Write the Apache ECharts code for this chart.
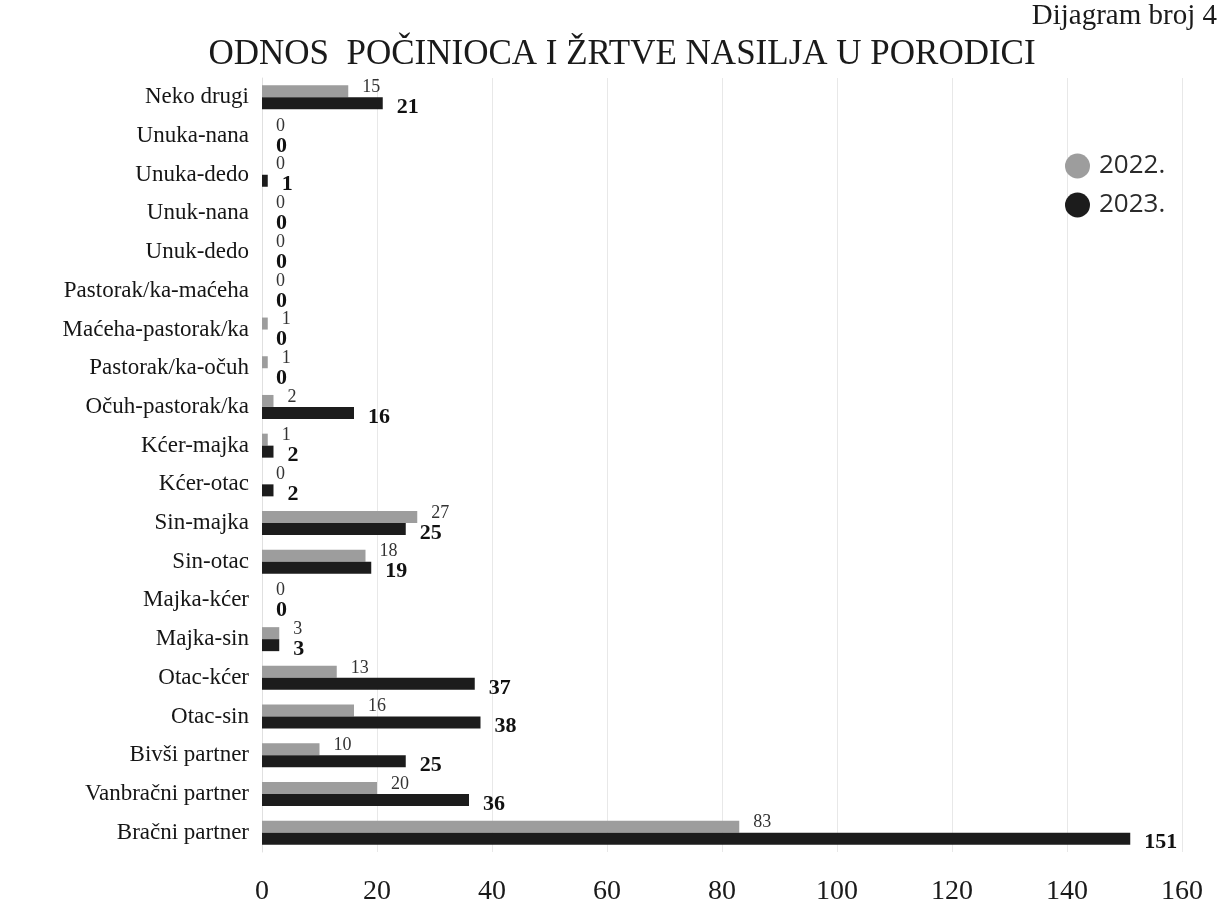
<!DOCTYPE html>
<html lang="en">
  <head>
    <meta charset="UTF-8" />
    <title>Dijagram broj 4</title>
    <style>
      html,
      body {
        margin: 0;
        width: 100%;
        height: 100%;
        overflow: hidden;
        background: #fff;
      }

      main {
        width: 1224px;
        height: 906px;
      }
    </style>
  </head>

  <body>
    <main></main>
  </body>
</html>
<script src="https://cdn.jsdelivr.net/npm/echarts@6/dist/echarts.min.js"></script>
<script>
  // kategorije, odozgo prema dolje
  const categories = [
    "Neko drugi",
    "Unuka-nana",
    "Unuka-dedo",
    "Unuk-nana",
    "Unuk-dedo",
    "Pastorak/ka-maćeha",
    "Maćeha-pastorak/ka",
    "Pastorak/ka-očuh",
    "Očuh-pastorak/ka",
    "Kćer-majka",
    "Kćer-otac",
    "Sin-majka",
    "Sin-otac",
    "Majka-kćer",
    "Majka-sin",
    "Otac-kćer",
    "Otac-sin",
    "Bivši partner",
    "Vanbračni partner",
    "Bračni partner",
  ];
  const values2022 = [15, 0, 0, 0, 0, 0, 1, 1, 2, 1, 0, 27, 18, 0, 3, 13, 16, 10, 20, 83];
  const values2023 = [21, 0, 1, 0, 0, 0, 0, 0, 16, 2, 2, 25, 19, 0, 3, 37, 38, 25, 36, 151];
  const years = ["2022.", "2023."];

  const serif = "'Liberation Serif', 'DejaVu Serif', serif";

  const chart = echarts.init(document.querySelector("main"));
  const option = {
    animation: false,
    backgroundColor: "#fff",
    title: [
      {
        text: "ODNOS  POČINIOCA I ŽRTVE NASILJA U PORODICI",
        left: 617,
        top: 32,
        textAlign: "center",
        textStyle: {
          fontFamily: serif,
          fontWeight: "normal",
          fontSize: 35,
          color: "#1a1a1a",
        },
      },
      {
        text: "Dijagram broj 4",
        right: 2,
        top: -3,
        textStyle: {
          fontFamily: serif,
          fontWeight: "normal",
          fontSize: 29,
          color: "#1a1a1a",
        },
      },
    ],
    legend: {
      orient: "vertical",
      left: 1060,
      top: 148,
      icon: "circle",
      itemWidth: 25,
      itemHeight: 25,
      itemGap: 13,
      textStyle: {
        fontFamily: "'Open Sans', 'Noto Sans', sans-serif",
        fontSize: 26,
        color: "#2a2a2a",
        padding: [0, 0, 0, 4],
      },
      data: years,
    },
    grid: {
      left: 262,
      right: 42,
      top: 78,
      bottom: 52,
      containLabel: false,
    },
    xAxis: {
      type: "value",
      min: 0,
      max: 160,
      interval: 20,
      axisLine: { show: false },
      axisTick: { show: false },
      axisLabel: {
        margin: 26,
        fontFamily: serif,
        fontSize: 28,
        color: "#1a1a1a",
      },
      splitLine: { lineStyle: { color: "#e8e8e8", width: 1 } },
    },
    yAxis: {
      type: "category",
      inverse: true,
      data: categories,
      axisLine: { show: true, lineStyle: { color: "#e0e0e0" } },
      axisTick: { show: false },
      axisLabel: {
        margin: 13,
        fontFamily: serif,
        fontSize: 23,
        color: "#151515",
      },
    },
    series: [
      {
        name: years[0],
        type: "bar",
        data: values2022,
        barWidth: 12,
        barGap: "0%",
        itemStyle: { color: "#9d9d9d" },
        label: {
          show: true,
          position: "right",
          distance: 14,
          offset: [0, -4],
          fontFamily: serif,
          fontSize: 18,
          color: "#333",
        },
      },
      {
        name: years[1],
        type: "bar",
        data: values2023,
        barWidth: 12,
        barGap: "0%",
        itemStyle: { color: "#1c1c1c" },
        label: {
          show: true,
          position: "right",
          distance: 14,
          offset: [0, 4],
          fontFamily: serif,
          fontWeight: "bold",
          fontSize: 22,
          color: "#111",
        },
      },
    ],
  };
  chart.setOption(option);
</script>
